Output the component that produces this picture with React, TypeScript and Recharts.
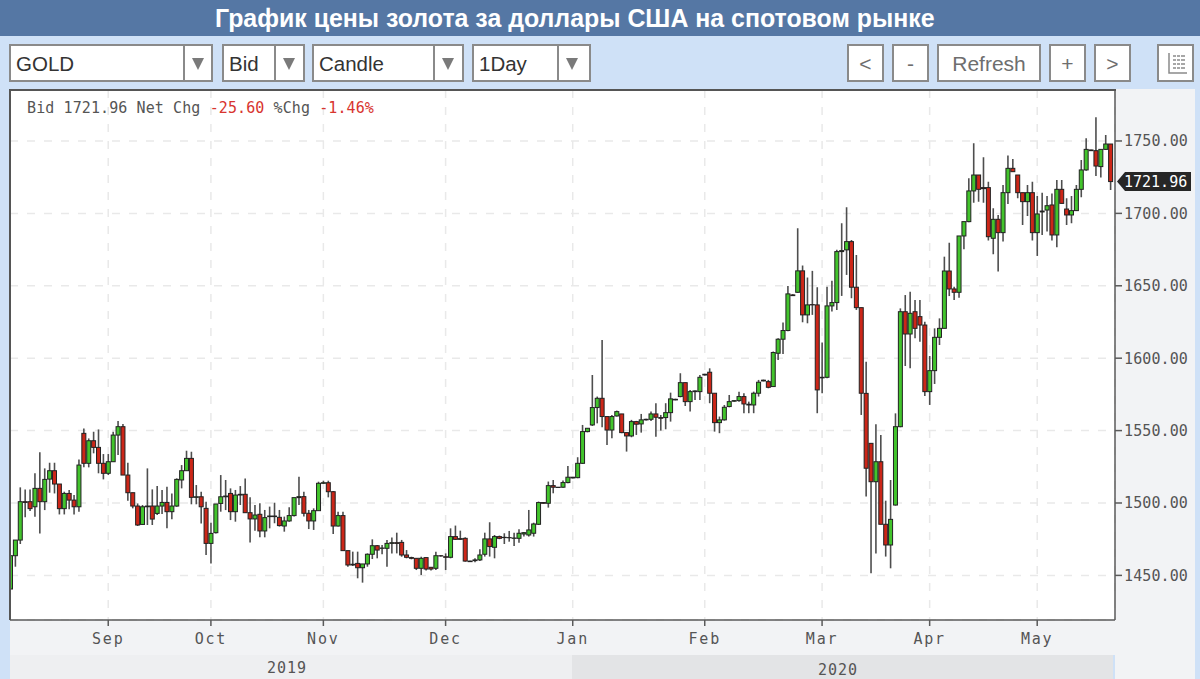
import { Bar, CartesianGrid, ComposedChart, ReferenceLine, XAxis, YAxis } from 'recharts';

const opens = [
  1440.6, 1463.6, 1474.4, 1500.9, 1500.9, 1497.4, 1510.1, 1500.9, 1516.5, 1522.3,
  1513.1, 1496.1, 1506.6, 1502, 1497.4, 1548.1, 1527.4, 1543, 1538.4, 1527.4,
  1520.5, 1528.5, 1546.9, 1552.7, 1519.3, 1507.1, 1497.9, 1485.2, 1497.4, 1497.9,
  1492.8, 1497.9, 1500.4, 1494, 1497.9, 1515.9, 1522.3, 1530.8, 1503.9, 1504.3,
  1496.3, 1472.1, 1479.5, 1499.7, 1504.3, 1506.6, 1494, 1505.5, 1506, 1493.3,
  1489, 1492.2, 1480.7, 1490.6, 1491, 1490.1, 1484.1, 1487.6, 1491.3, 1503.7,
  1504.4, 1492.9, 1487.6, 1494.7, 1513.6, 1514, 1507.8, 1484.1, 1491.3, 1467.1,
  1457.2, 1458.3, 1455.3, 1457.9, 1464.6, 1470.5, 1468.7, 1468.7, 1472.1, 1472.6,
  1472.8, 1464.1, 1462.3, 1461.8, 1454.9, 1462.3, 1455.6, 1454.9, 1463.6, 1462.9,
  1462.5, 1476.8, 1475.4, 1475.6, 1459.9, 1460.2, 1460.7, 1464.6, 1475.2, 1469.4,
  1476.8, 1476.1, 1476.1, 1475.6, 1475.6, 1478.6, 1477.9, 1479.1, 1485.3, 1500.3,
  1499.8, 1512, 1510.9, 1510.9, 1514.1, 1517.8, 1517.5, 1527.4, 1549.3, 1553.9,
  1565.9, 1572.3, 1559.7, 1550.4, 1560.1, 1561.5, 1548.6, 1546.3, 1556.2, 1554.6,
  1557.4, 1557.8, 1561.5, 1559, 1559, 1562.4, 1571.6, 1573.5, 1583.1, 1570,
  1576.9, 1576.9, 1588.4, 1590.3, 1575.8, 1555.5, 1557.4, 1566.6, 1570.3, 1570.7,
  1573.5, 1568.2, 1567.7, 1575.8, 1584.3, 1583.8, 1580.4, 1603.4, 1613.1, 1619.1,
  1643.7, 1645.5, 1660.3, 1629.9, 1637, 1636.8, 1586.8, 1586.8, 1636.1, 1638.4,
  1673.6, 1674.8, 1680.5, 1649, 1634.9, 1575.7, 1541.2, 1514.7, 1528.5, 1485.3,
  1471, 1498.6, 1552.7, 1632.1, 1616.7, 1632.1, 1628.7, 1622.9, 1576.9, 1591.4,
  1614.4, 1620.6, 1660.2, 1647.8, 1645.5, 1684.4, 1694.3, 1715.5, 1726.5, 1717.8,
  1717.8, 1682.8, 1695.9, 1686.7, 1714.3, 1731.1, 1726.5, 1714.3, 1708.1, 1714.3,
  1686.7, 1701, 1702.3, 1705.8, 1685.1, 1716.6, 1703, 1698.9, 1701.9, 1716.6,
  1730, 1743.8, 1743.3, 1732.3, 1744.2, 1747.9,
];

const closes = [
  1463.6, 1474.4, 1500.9, 1500.4, 1496.1, 1510.1, 1500.9, 1516.3, 1522.3, 1513.1,
  1496.1, 1506.6, 1502, 1497.4, 1526.2, 1527.4, 1543, 1538.4, 1527.4, 1520.5,
  1528.5, 1546.9, 1552.7, 1519.3, 1507.1, 1497.9, 1484.8, 1497.4, 1497.9, 1488.9,
  1497.9, 1500.4, 1494, 1497.9, 1516.3, 1522.3, 1530.8, 1503.9, 1504.3, 1497.4,
  1472.1, 1479, 1499.3, 1504.3, 1504.8, 1494, 1505.5, 1506, 1493.3, 1489,
  1491.7, 1480.7, 1489.9, 1491, 1490.6, 1484.4, 1487.6, 1491.3, 1503.7, 1504.4,
  1492.9, 1487.6, 1494.7, 1513.6, 1514, 1507.8, 1484.1, 1491.3, 1467.1, 1457.2,
  1457.7, 1455.3, 1457.9, 1464.6, 1470.5, 1467.5, 1468.9, 1472.1, 1472.6, 1472.1,
  1464.1, 1462.5, 1461.8, 1454.9, 1461.8, 1454.4, 1454.4, 1463.6, 1463.4, 1462.5,
  1476.8, 1474.9, 1474.9, 1459.9, 1459.5, 1460.7, 1464.1, 1475.2, 1469.9, 1476.8,
  1475.6, 1476.3, 1476, 1475.8, 1479.1, 1479.5, 1481.4, 1485.5, 1500.3, 1499.8,
  1512, 1510.9, 1510.7, 1514.1, 1517.8, 1517.3, 1527.4, 1549.3, 1551.6, 1565.9,
  1572.3, 1559.7, 1550.4, 1559.7, 1563.1, 1548.6, 1546.3, 1556.2, 1554.4, 1557.4,
  1557.8, 1561.5, 1559.2, 1558.5, 1562.4, 1571.9, 1571.2, 1583.1, 1570, 1576.9,
  1577.4, 1586.8, 1588.9, 1575.8, 1555.5, 1557.4, 1566.1, 1570, 1570.7, 1573.5,
  1568.4, 1567.7, 1575.8, 1583.4, 1584.8, 1579.9, 1603.9, 1613.1, 1619.1, 1644.4,
  1643.2, 1660.3, 1629.9, 1636.8, 1636.8, 1578.1, 1586.4, 1636.1, 1638.4, 1673.6,
  1674.3, 1680.5, 1649, 1634.9, 1575.8, 1524, 1514.7, 1528.5, 1485.3, 1471,
  1488.7, 1552.7, 1632.1, 1616.7, 1631, 1620.6, 1622.9, 1576.9, 1591.4, 1614.4,
  1620.6, 1660.2, 1647.8, 1645.5, 1684.4, 1694.3, 1715.5, 1726.5, 1716.6, 1717.1,
  1683.9, 1695.9, 1686.7, 1714.3, 1731.1, 1728.8, 1714.3, 1708.1, 1714.3, 1686.7,
  1699.6, 1701.6, 1705.3, 1685.1, 1716.6, 1706.9, 1698.9, 1701.9, 1716.6, 1730,
  1744.2, 1743.3, 1732.7, 1744.2, 1747.9, 1721.96,
];

const highs = [
  1463.6, 1474.4, 1510.8, 1509.4, 1509.4, 1520.5, 1535, 1523.9, 1527.8, 1527.8,
  1513.1, 1507.8, 1509, 1505.5, 1530.1, 1551.5, 1544.6, 1549.2, 1550.8, 1533.8,
  1533.8, 1549.2, 1556.6, 1554.5, 1527.8, 1507.1, 1499.7, 1498.6, 1523.9, 1509.4,
  1511.7, 1509, 1511.3, 1506.6, 1517, 1526.2, 1536.1, 1535.4, 1512.4, 1507.8,
  1500.9, 1486.4, 1499.3, 1519.3, 1515.9, 1510.1, 1509, 1511.7, 1517, 1503.9,
  1498.6, 1499.8, 1495.2, 1497.5, 1500.2, 1495.2, 1490.6, 1497, 1503.7, 1518.2,
  1507.8, 1495.2, 1496.3, 1514.7, 1515.4, 1515.4, 1508.3, 1494, 1494, 1467.1,
  1466.4, 1466.4, 1457.9, 1465.2, 1474.9, 1471, 1471, 1474.5, 1476.1, 1479.5,
  1474.5, 1467.5, 1462.9, 1461.8, 1462.9, 1462.3, 1455.6, 1466.4, 1464, 1465.2,
  1482.5, 1484.4, 1480.9, 1476.3, 1460.2, 1461.8, 1468, 1479.5, 1486.7, 1477.9,
  1477.5, 1479.1, 1480.7, 1479.5, 1481.8, 1480, 1495.2, 1486.4, 1501, 1500.6,
  1514.8, 1515.9, 1511, 1515.5, 1525.6, 1518, 1531.6, 1553.9, 1551.6, 1588.4,
  1573.5, 1612.6, 1559.7, 1560.8, 1563.8, 1561.5, 1548.6, 1557.4, 1556.7, 1561.5,
  1558.1, 1563.1, 1568.9, 1560.8, 1568.9, 1576.2, 1572, 1589.6, 1583.1, 1578.1,
  1577.7, 1588.4, 1589.2, 1593, 1575.8, 1559.7, 1567.7, 1574.6, 1571, 1576.9,
  1575.8, 1570, 1576.9, 1585, 1585.2, 1585, 1604.6, 1613.8, 1624.6, 1649.9,
  1644.1, 1689.7, 1664, 1655.7, 1660.3, 1649, 1610.8, 1649.4, 1653.4, 1674.8,
  1693.2, 1704.2, 1681.7, 1671.3, 1634.9, 1597.6, 1541.2, 1554.3, 1547, 1501.6,
  1515.9, 1561.9, 1634.4, 1643.6, 1645.9, 1640.2, 1640.2, 1625.2, 1601.5, 1620.6,
  1627.5, 1670.1, 1679.8, 1649.4, 1684.4, 1694.3, 1724.2, 1748.4, 1726.5, 1738.7,
  1721.9, 1703.5, 1698.9, 1719.6, 1739.9, 1737.6, 1726.5, 1714.3, 1719.6, 1721.9,
  1712, 1714.3, 1712, 1713.8, 1723.1, 1723.1, 1710.4, 1712, 1719.6, 1736.9,
  1751.8, 1744, 1766.3, 1744.2, 1754.1, 1747.9,
];

const lows = [
  1440.6, 1456, 1471.7, 1490.1, 1494.4, 1490.5, 1479, 1495.1, 1507.1, 1506.6,
  1492.1, 1492.1, 1495.6, 1492.1, 1494, 1524.6, 1524.6, 1534.3, 1520.5, 1516.3,
  1519.3, 1528.5, 1533.1, 1519.3, 1501.6, 1496.3, 1484.1, 1485.2, 1484.8, 1484.8,
  1491.7, 1492.4, 1482.5, 1488.7, 1497.4, 1510.1, 1522.3, 1499.1, 1499.1, 1485.9,
  1464.1, 1458.3, 1479, 1494, 1495.1, 1488.2, 1487.1, 1498.6, 1493.3, 1472.8,
  1480.9, 1476.3, 1476.3, 1482.5, 1486, 1483.7, 1480.2, 1487.1, 1490.6, 1498.6,
  1490.6, 1482, 1481.4, 1494.7, 1513.1, 1503.9, 1478.6, 1483.7, 1467.1, 1456,
  1456.5, 1448, 1445, 1456, 1461.3, 1461.8, 1464.6, 1456, 1465.2, 1465.2,
  1462.9, 1461.8, 1461.1, 1453.7, 1450.3, 1453.3, 1453.3, 1453.7, 1463, 1453.7,
  1461.8, 1474.5, 1474.5, 1459.5, 1459.2, 1459.1, 1460, 1463, 1463, 1461.8,
  1475, 1471.7, 1473.3, 1470.3, 1472.6, 1476.8, 1476.8, 1476.8, 1484.8, 1499.5,
  1496.8, 1506.7, 1510.5, 1510.6, 1513.6, 1517, 1517.1, 1527, 1548.8, 1553.2,
  1555, 1552.3, 1540.1, 1544.7, 1559.7, 1548.2, 1535.5, 1545.4, 1547, 1548.6,
  1557, 1556.7, 1545.8, 1550, 1550.9, 1556.2, 1570.9, 1573, 1567, 1563.1,
  1571.2, 1571.2, 1588, 1568.9, 1549.3, 1548.2, 1556.9, 1566.1, 1570, 1570,
  1562, 1562, 1562, 1573.5, 1584, 1579.2, 1580.4, 1598.8, 1602.9, 1618.6,
  1643, 1645.1, 1624.8, 1624.1, 1629.9, 1562, 1575.8, 1586.1, 1632.2, 1633.3,
  1643, 1657.5, 1641.4, 1633.3, 1560.8, 1504.4, 1451.4, 1465.2, 1485.3, 1463,
  1454.9, 1498.2, 1552.3, 1594.6, 1593, 1613.7, 1611.4, 1573.9, 1567.7, 1582.2,
  1609.1, 1620.6, 1642.9, 1640.2, 1641.8, 1675.2, 1693.8, 1707.4, 1708.1, 1707.4,
  1681.2, 1671.7, 1659.8, 1680.5, 1706.5, 1728.8, 1710.4, 1692, 1698.2, 1681.2,
  1670.6, 1685.1, 1687.4, 1681.2, 1676.6, 1706.9, 1692, 1693.1, 1701.6, 1711.1,
  1729.5, 1743, 1725.8, 1724.7, 1743.8, 1716.2,
];

const monthTicks = [20, 41, 64, 89, 115, 142, 166, 188, 210];
const monthLabels = ['Sep', 'Oct', 'Nov', 'Dec', 'Jan', 'Feb', 'Mar', 'Apr', 'May'];
const priceTicks = [1450, 1500, 1550, 1600, 1650, 1700, 1750];
const lastPrice = 1721.96;

const chartData = opens.map((open, idx) => ({
  idx,
  open,
  close: closes[idx],
  high: highs[idx],
  low: lows[idx],
  range: [lows[idx], highs[idx]],
}));

const MONO = '"DejaVu Sans Mono", monospace';
const SANS = '"Liberation Sans", Arial, sans-serif';
const GRID = '#e9e9e9';
const AXIS = '#5a5a5a';
const PAGE = '#cfe1f7';

function Candle(props: any) {
  const { x, y, width, height, payload } = props;
  const { open, close, high, low } = payload;
  const center = x + width / 2;
  const perUnit = high === low ? 0 : height / (high - low);
  const bodyTop = y + (high - Math.max(open, close)) * perUnit;
  const bodyHeight = Math.abs(open - close) * perUnit;
  return (
    <g>
      <line x1={center} x2={center} y1={y} y2={y + height} stroke="#4e4e4e" strokeWidth={1.6} />
      <rect
        x={center - 2}
        y={bodyTop}
        width={4}
        height={bodyHeight}
        fill={close >= open ? '#42c42c' : '#cc2618'}
        stroke="#222"
        strokeWidth={1}
      />
    </g>
  );
}

function PriceTag({ viewBox }: any) {
  const right = viewBox.x + viewBox.width;
  const mid = viewBox.y;
  return (
    <g>
      <path
        d={`M${right + 2} ${mid} L${right + 10} ${mid - 9.5} H${right + 76} V${mid + 9.5} H${right + 10} Z`}
        fill="#262626"
      />
      <text x={right + 9} y={mid + 5} fill="#fff" fontFamily={MONO} fontSize={15}>
        {lastPrice.toFixed(2)}
      </text>
    </g>
  );
}

function Select({ left, width, divider, label }: { left: number; width: number; divider: number; label: string }) {
  return (
    <div style={{ position: 'absolute', left, top: 44, width, height: 34, background: '#fff', border: '2px solid #8a8a8a' }}>
      <span style={{ position: 'absolute', left: 5, top: 6, fontSize: 20.5, color: '#333', fontFamily: SANS }}>{label}</span>
      <div style={{ position: 'absolute', left: divider - left - 2, top: 0, width: 2, height: 34, background: '#8a8a8a' }} />
      <div
        style={{
          position: 'absolute',
          left: divider - left + 7,
          top: 12,
          width: 0,
          height: 0,
          borderLeft: '6px solid transparent',
          borderRight: '6px solid transparent',
          borderTop: '12px solid #7a7a7a',
        }}
      />
    </div>
  );
}

function Button({ left, width, label }: { left: number; width: number; label: string }) {
  return (
    <div
      style={{
        position: 'absolute',
        left,
        top: 44,
        width,
        height: 34,
        lineHeight: '36px',
        textAlign: 'center',
        background: '#fff',
        border: '2px solid #8a8a8a',
        fontSize: 21,
        color: '#6e6e6e',
        fontFamily: SANS,
      }}
    >
      {label}
    </div>
  );
}

export default function App() {
  return (
    <div style={{ position: 'absolute', left: 0, top: 0, width: 1200, height: 679, overflow: 'hidden', background: PAGE }}>
      <div
        style={{
          position: 'absolute',
          left: 0,
          top: 0,
          width: 1200,
          height: 36,
          background: '#5577a4',
          color: '#fff',
          fontFamily: SANS,
          fontWeight: 700,
          fontSize: 24.9,
          lineHeight: '37px',
          paddingLeft: 215,
          boxSizing: 'border-box',
          whiteSpace: 'nowrap',
        }}
      >
        График цены золота за доллары США на спотовом рынке
      </div>

      <Select left={9} width={200} divider={183} label="GOLD" />
      <Select left={222} width={79} divider={274} label="Bid" />
      <Select left={312} width={148} divider={433} label="Candle" />
      <Select left={472} width={115} divider={557} label="1Day" />
      <Button left={847} width={33} label="<" />
      <Button left={892} width={33} label="-" />
      <Button left={937} width={100} label="Refresh" />
      <Button left={1049} width={33} label="+" />
      <Button left={1094} width={33} label=">" />
      <div style={{ position: 'absolute', left: 1157, top: 44, width: 33, height: 34, background: '#fff', border: '2px solid #8a8a8a' }}>
        <svg width={33} height={34}>
          <path d="M10 7 V27 H28 M14 10 H26 M14 14 H26 M14 18 H26 M14 22 H26" fill="none" stroke="#8a8a8a" strokeWidth={1.5} />
          <path d="M17.5 9 V23 M21.5 9 V23" fill="none" stroke="#fff" strokeWidth={1} />
        </svg>
      </div>

      <div style={{ position: 'absolute', left: 1115, top: 89, width: 80, height: 590, background: '#f2f3f5' }} />
      <div style={{ position: 'absolute', left: 10, top: 620, width: 1105, height: 35, background: '#f2f3f5' }} />
      <div style={{ position: 'absolute', left: 10, top: 655, width: 562, height: 24, background: '#eeeff1' }} />
      <div style={{ position: 'absolute', left: 572, top: 655, width: 541, height: 24, background: '#e3e4e6' }} />
      <div style={{ position: 'absolute', left: 9, top: 89, width: 1106, height: 531, background: '#fff' }} />

      <ComposedChart
        width={1200}
        height={679}
        data={chartData}
        barCategoryGap={0}
        margin={{ top: 90, right: 0, bottom: 0, left: 10 }}
        style={{ position: 'absolute', left: 0, top: 0 }}
      >
        <CartesianGrid stroke={GRID} strokeWidth={1.5} strokeDasharray="8 9" fill="none" />
        <XAxis
          dataKey="idx"
          type="category"
          height={59}
          padding={{ left: -2, right: 2 }}
          ticks={monthTicks}
          interval={0}
          tickFormatter={(value) => monthLabels[monthTicks.indexOf(value)]}
          stroke={AXIS}
          strokeWidth={1.5}
          tickSize={6}
          tickMargin={7}
          tick={{ fontFamily: MONO, fontSize: 15, fill: '#555', letterSpacing: 1.8 }}
        />
        <YAxis
          orientation="right"
          width={85}
          domain={[1419.2, 1785.2]}
          allowDataOverflow
          ticks={priceTicks}
          tickFormatter={(value) => value.toFixed(2)}
          stroke={AXIS}
          strokeWidth={1.5}
          tickSize={7}
          tickMargin={2}
          tick={{ fontFamily: MONO, fontSize: 15, fill: '#555', letterSpacing: 0.1 }}
        />
        <Bar dataKey="range" isAnimationActive={false} shape={<Candle />} />
        <ReferenceLine y={lastPrice} stroke="none" label={<PriceTag />} />
      </ComposedChart>

      {/* page colour and frame sit on top of the chart: they clip the first candle at the left edge */}
      <div style={{ position: 'absolute', left: 0, top: 84, width: 9, height: 595, background: PAGE }} />
      <div style={{ position: 'absolute', left: 9, top: 89, width: 1107, height: 531, borderTop: '2px solid #555', borderLeft: '2px solid #555', boxSizing: 'border-box' }} />

      <div style={{ position: 'absolute', left: 27, top: 99, fontFamily: MONO, fontSize: 15, color: '#555', whiteSpace: 'pre', letterSpacing: 0.1 }}>
        Bid 1721.96 Net Chg <span style={{ color: '#d8352f' }}>-25.60</span> %Chg <span style={{ color: '#d8352f' }}>-1.46%</span>
      </div>
      <div style={{ position: 'absolute', left: 267, top: 659, fontFamily: MONO, fontSize: 15, color: '#555', letterSpacing: 1 }}>2019</div>
      <div style={{ position: 'absolute', left: 818, top: 661, fontFamily: MONO, fontSize: 15, color: '#555', letterSpacing: 1 }}>2020</div>
    </div>
  );
}
